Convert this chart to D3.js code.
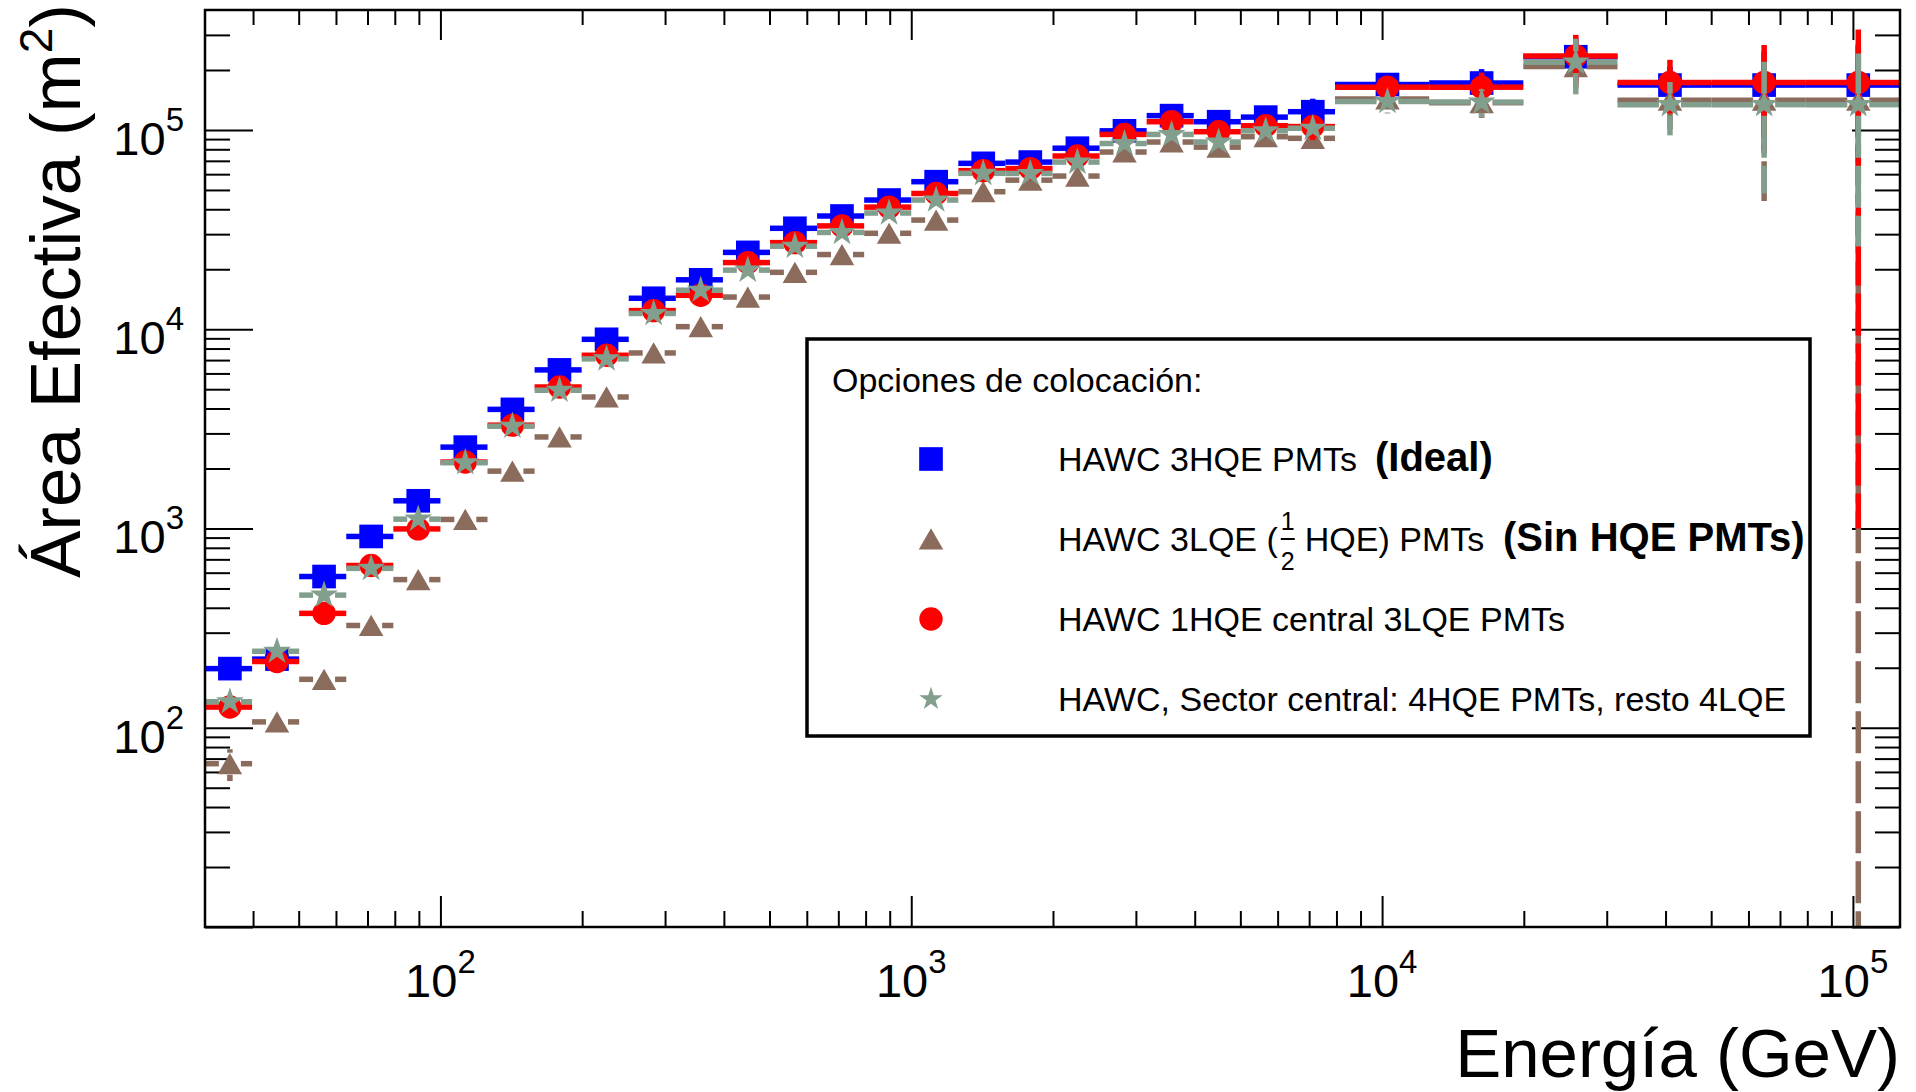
<!DOCTYPE html>
<html><head><meta charset="utf-8">
<script src="https://cdn.jsdelivr.net/npm/d3@7"></script>
<style>
body{margin:0;background:#fff}
svg{display:block;background:#fff}
text{font-family:"Liberation Sans",Arial,Helvetica,sans-serif;fill:#000}
</style>
</head><body>
<svg id="chart" width="1916" height="1092"></svg>
<script>
// ---------------- DATA ----------------
// bin edges in log10(E/GeV)
const binEdgesLog10 = [1.5,1.6,1.7,1.8,1.9,2.0,2.1,2.2,2.3,2.4,2.5,2.6,2.7,2.8,2.9,3.0,
                       3.1,3.2,3.3,3.4,3.5,3.6,3.7,3.8,3.9,4.1,4.3,4.5,4.7,4.9,5.1];

// HAWC 3HQE PMTs (Ideal)
const blueVals = [198,221,574,912,1377,2560,3960,6250,8900,14300,17700,24300,32100,37000,44500,
                  55000,68000,69000,81000,99000,118000,110000,116000,123500,169000,172000,233000,168000,168000,168000];
const blueErr  = [10,11,20,30,40,60,90,130,180,260,320,420,520,600,700,
                  900,1100,1100,1400,1800,2500,3000,4500,20000,15000,30000,55000,40000,80000,100000];

// HAWC 3LQE (1/2 HQE) PMTs
const brownVals = [66,107,175,326,554,1110,1940,2880,4570,7600,10300,14500,19300,23700,30300,
                   35300,49000,56000,58700,77500,87000,82000,92500,90800,143000,137000,208000,141000,141000,141000];
const brownErrUp   = [12,9,12,18,26,40,60,80,110,160,200,260,320,380,450,
                      550,700,700,900,1200,1500,1800,3000,10000,16000,22000,46000,40000,97000,141000];
const brownErrDown = [12,9,12,18,26,40,60,80,110,160,200,260,320,380,450,
                      550,700,700,900,1200,1500,1800,3000,10000,16000,22000,46000,40000,97000,141000];

// HAWC 1HQE central 3LQE PMTs
const redVals = [127,215,375,652,995,2155,3300,5130,7400,12400,14800,21600,27200,33000,41000,
                 48000,62500,64000,74000,95000,110000,98000,105000,104000,164000,164000,235000,173000,173000,173000];
const redErrUp   = [9,12,18,28,40,60,90,120,170,230,300,400,480,560,650,
                    800,1000,1000,1300,1700,2200,2600,4000,15000,15000,30000,65000,52000,94000,147000];
const redErrDown = [9,12,18,28,40,60,90,120,170,230,300,400,480,560,650,
                    800,1000,1000,1300,1700,2200,2600,4000,15000,15000,30000,65000,52000,94000,172000];

// HAWC, Sector central: 4HQE PMTs, resto 4LQE
const grayVals = [135,242,463,631,1114,2138,3260,4940,7100,12000,15700,19800,26100,30600,38300,
                  44500,60600,60500,69000,85500,95000,87000,99000,102000,139000,138000,219000,134000,134000,134000];
const grayErr  = [10,14,22,30,45,65,95,130,180,240,300,400,480,550,650,
                  800,1000,1000,1300,1700,2200,2600,4000,12000,18000,22000,68000,40000,86000,108000];

const xTickExps = [2,3,4,5];
const yTickExps = [2,3,4,5];
const legendTitle = "Opciones de colocaci\u00f3n:";
const legendLabels = ["HAWC 3HQE PMTs","HAWC 3LQE (\u00bd HQE) PMTs","HAWC 1HQE central 3LQE PMTs","HAWC, Sector central: 4HQE PMTs, resto 4LQE"];
const legendNotes = ["(Ideal)","(Sin HQE PMTs)","",""];
const xTitle = "Energ\u00eda (GeV)";
const yTitle = "\u00c1rea Efectiva (m";

// ---------------- LAYOUT ----------------
const X0 = 205, X1 = 1900, Y0 = 10, Y1 = 927;
const svg = d3.select("#chart");
const x = d3.scaleLog().domain([Math.pow(10,1.5), Math.pow(10,5.1)]).range([X0, X1]);
const y = d3.scaleLog().domain([10, 4e5]).range([Y1, Y0]);

svg.append("defs").append("clipPath").attr("id","plotclip")
  .append("rect").attr("x",X0).attr("y",Y0).attr("width",X1-X0).attr("height",Y1-Y0);

// tick values
const majX = xTickExps.map(e => Math.pow(10,e));
const majY = [10].concat(yTickExps.map(e => Math.pow(10,e)));
const minX = [], minY = [];
for (let e = 1; e <= 5; e++) for (let m = 2; m <= 9; m++) {
  const v = m*Math.pow(10,e);
  if (v >= x.domain()[0] && v <= x.domain()[1]) minX.push(v);
  if (v > y.domain()[0] && v < y.domain()[1]) minY.push(v);
}

function drawAxis(gen, tr){
  const g = svg.append("g").attr("transform", tr).call(gen);
  g.select(".domain").remove();
  g.selectAll("line").attr("stroke","#000").attr("stroke-width",2);
  g.selectAll("text").remove();
  return g;
}
drawAxis(d3.axisBottom(x).tickValues(minX).tickSize(-16).tickFormat(""), `translate(0,${Y1})`);
drawAxis(d3.axisBottom(x).tickValues(majX).tickSize(-31).tickFormat(""), `translate(0,${Y1})`);
drawAxis(d3.axisTop(x).tickValues(minX).tickSize(-15).tickFormat(""), `translate(0,${Y0})`);
drawAxis(d3.axisTop(x).tickValues(majX).tickSize(-30).tickFormat(""), `translate(0,${Y0})`);
drawAxis(d3.axisLeft(y).tickValues(minY).tickSize(-25).tickFormat(""), `translate(${X0},0)`);
drawAxis(d3.axisLeft(y).tickValues(majY).tickSize(-48).tickFormat(""), `translate(${X0},0)`);
drawAxis(d3.axisRight(y).tickValues(minY).tickSize(-25).tickFormat(""), `translate(${X1},0)`);
drawAxis(d3.axisRight(y).tickValues(majY).tickSize(-48).tickFormat(""), `translate(${X1},0)`);

// tick labels
svg.append("g").selectAll("text").data(xTickExps).join("text")
  .attr("x", d => x(Math.pow(10,d))).attr("y", 997)
  .attr("text-anchor","middle").attr("font-size",47)
  .each(function(d){
    const t = d3.select(this);
    t.append("tspan").text("10");
    t.append("tspan").attr("dy",-24).attr("font-size",33).text(d);
  });
svg.append("g").selectAll("text").data(yTickExps).join("text")
  .attr("x", 184).attr("y", d => y(Math.pow(10,d)) + 25)
  .attr("text-anchor","end").attr("font-size",47)
  .each(function(d){
    const t = d3.select(this);
    t.append("tspan").text("10");
    t.append("tspan").attr("dy",-24).attr("font-size",33).text(d);
  });

// axis titles
svg.append("text").attr("x",1900).attr("y",1077).attr("text-anchor","end")
  .attr("font-size",69).text(xTitle);
const yt = svg.append("text").attr("transform","translate(80,4) rotate(-90)")
  .attr("text-anchor","end").attr("font-size",71);
yt.append("tspan").text(yTitle);
yt.append("tspan").attr("dy",-28).attr("font-size",46).text("2");
yt.append("tspan").attr("dy",28).text(")");

// ---------------- SERIES ----------------
const series = [
  {vals: blueVals,  up: blueErr,    down: blueErr,      color:"#0000ff", sym:d3.symbolSquare,   size:560, dy:0},
  {vals: brownVals, up: brownErrUp, down: brownErrDown, color:"#8b6b5c", sym:d3.symbolTriangle, size:260, dy:3.5},
  {vals: redVals,   up: redErrUp,   down: redErrDown,   color:"#ff0000", sym:d3.symbolCircle,   size:430, dy:0},
  {vals: grayVals,  up: grayErr,    down: grayErr,      color:"#829e8c", sym:d3.symbolStar,     size:240, dy:0}
];
const GAP = 11;
const bins = d3.range(binEdgesLog10.length - 1).map(i => {
  const lo = Math.pow(10, binEdgesLog10[i]), hi = Math.pow(10, binEdgesLog10[i+1]);
  return {i, lo, hi, c: (lo+hi)/2};
});

const plot = svg.append("g").attr("clip-path","url(#plotclip)");
series.forEach(s => {
  const g = plot.append("g");
  const segs = [];
  bins.forEach(b => {
    const v = s.vals[b.i];
    const xc = x(b.c), yc = y(v), xl = x(b.lo), xr = x(b.hi);
    if (xc - GAP > xl) segs.push([xc-GAP, yc, xl, yc]);
    if (xr > xc + GAP) segs.push([xc+GAP, yc, xr, yc]);
    const yu = y(v + s.up[b.i]);
    const lowV = v - s.down[b.i];
    const yd = lowV > 0 ? y(lowV) : Y1 + 30;
    if (yu < yc - GAP) segs.push([xc, yc-GAP, xc, yu]);
    if (yd > yc + GAP) segs.push([xc, yc+GAP, xc, yd]);
  });
  g.selectAll("line").data(segs).join("line")
    .attr("x1",d=>d[0]).attr("y1",d=>d[1]).attr("x2",d=>d[2]).attr("y2",d=>d[3])
    .attr("stroke", s.color).attr("stroke-width",5.5)
    .attr("stroke-dasharray","42 8").attr("stroke-linecap","butt");
  g.selectAll("path").data(bins).join("path")
    .attr("d", d3.symbol(s.sym, s.size))
    .attr("transform", b => `translate(${x(b.c)},${y(s.vals[b.i]) + s.dy})`)
    .attr("fill", s.color);
});

// frame
svg.append("rect").attr("x",X0).attr("y",Y0).attr("width",X1-X0).attr("height",Y1-Y0)
  .attr("fill","none").attr("stroke","#000").attr("stroke-width",2.5);

// ---------------- LEGEND ----------------
const leg = svg.append("g");
leg.append("rect").attr("x",807).attr("y",339).attr("width",1003).attr("height",397)
  .attr("fill","#fff").attr("stroke","#000").attr("stroke-width",3.5);
leg.append("text").attr("x",832).attr("y",392).attr("font-size",34).text(legendTitle);
const rowY = [459, 539, 619, 699];
const noteX = [1375, 1503, 0, 0];
legendLabels.forEach((lab, k) => {
  const s = series[k];
  const base = rowY[k] + 12;
  leg.append("path").attr("d", d3.symbol(s.sym, k===3 ? 170 : s.size))
    .attr("transform", `translate(931,${rowY[k] + s.dy})`).attr("fill", s.color);
  const parts = lab.split("\u00bd");
  const t1 = leg.append("text").attr("x",1058).attr("y",base).attr("font-size",34).text(parts[0]);
  if (parts.length > 1) {
    const w = t1.node().getComputedTextLength();
    const xf = 1058 + w + 1;
    leg.append("text").attr("x",xf+9).attr("y",base-21).attr("font-size",25).attr("text-anchor","middle").text("1");
    leg.append("line").attr("x1",xf+2).attr("x2",xf+16).attr("y1",base-12).attr("y2",base-12)
      .attr("stroke","#000").attr("stroke-width",2);
    leg.append("text").attr("x",xf+9).attr("y",base+19).attr("font-size",25).attr("text-anchor","middle").text("2");
    leg.append("text").attr("x",xf+26).attr("y",base).attr("font-size",34).text(parts[1].trim());
  }
  if (legendNotes[k]) {
    leg.append("text").attr("x",noteX[k]).attr("y",base).attr("font-size",40)
      .attr("font-weight","bold").text(legendNotes[k]);
  }
});
</script>
</body></html>
